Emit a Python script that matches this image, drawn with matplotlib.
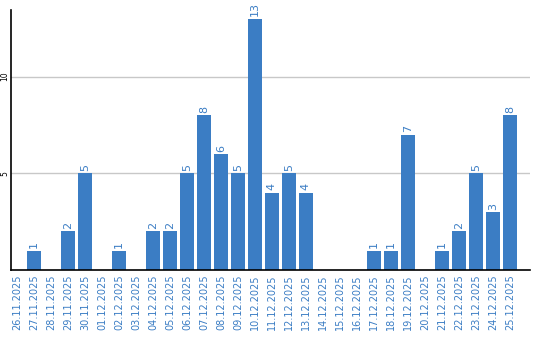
import matplotlib
matplotlib.use("Agg")
import matplotlib.pyplot as plt

# ---------- Данные ----------
dates = ["26.11.2025", "27.11.2025", "28.11.2025", "29.11.2025", "30.11.2025",
         "01.12.2025", "02.12.2025", "03.12.2025", "04.12.2025", "05.12.2025",
         "06.12.2025", "07.12.2025", "08.12.2025", "09.12.2025", "10.12.2025",
         "11.12.2025", "12.12.2025", "13.12.2025", "14.12.2025", "15.12.2025",
         "16.12.2025", "17.12.2025", "18.12.2025", "19.12.2025", "20.12.2025",
         "21.12.2025", "22.12.2025", "23.12.2025", "24.12.2025", "25.12.2025"]
counts = [0, 1, 0, 2, 5, 0, 1, 0, 2, 2, 5, 8, 6, 5, 13, 4, 5, 4, 0, 0,
          0, 1, 1, 7, 0, 1, 2, 5, 3, 8]
y_ticks = [5, 10]

BLUE = "#3b7dc4"

fig = plt.figure(figsize=(5.4, 3.4), dpi=100)
ax = fig.add_axes([0.0204, 0.206, 0.961, 0.765])

x = list(range(len(dates)))
ax.bar(x, counts, width=0.82, color=BLUE, zorder=2)

# подписи над столбиками, кроме нулевых
for xi, v in zip(x, counts):
    if v > 0:
        ax.text(xi, v + 0.12, str(v), rotation=90, ha="center", va="bottom",
                color=BLUE, fontsize=8)

ax.set_xlim(-0.35, 30.18)
ax.set_ylim(0, 13.45)
ax.set_xticks(x)
ax.set_xticklabels(dates, rotation=90, color=BLUE, fontsize=7)
ax.set_yticks(y_ticks)
ax.set_yticklabels([str(t) for t in y_ticks], rotation=90, fontsize=5.5,
                   va="center")
ax.tick_params(axis="y", length=0, pad=1)
ax.tick_params(axis="x", length=0, pad=3)
ax.grid(axis="y", color="#c8c8c8", linewidth=1, zorder=0)
for s in ["top", "right"]:
    ax.spines[s].set_visible(False)
ax.spines["left"].set_linewidth(1.2)
ax.spines["bottom"].set_linewidth(1.2)

fig.savefig("out.png", dpi=100)
